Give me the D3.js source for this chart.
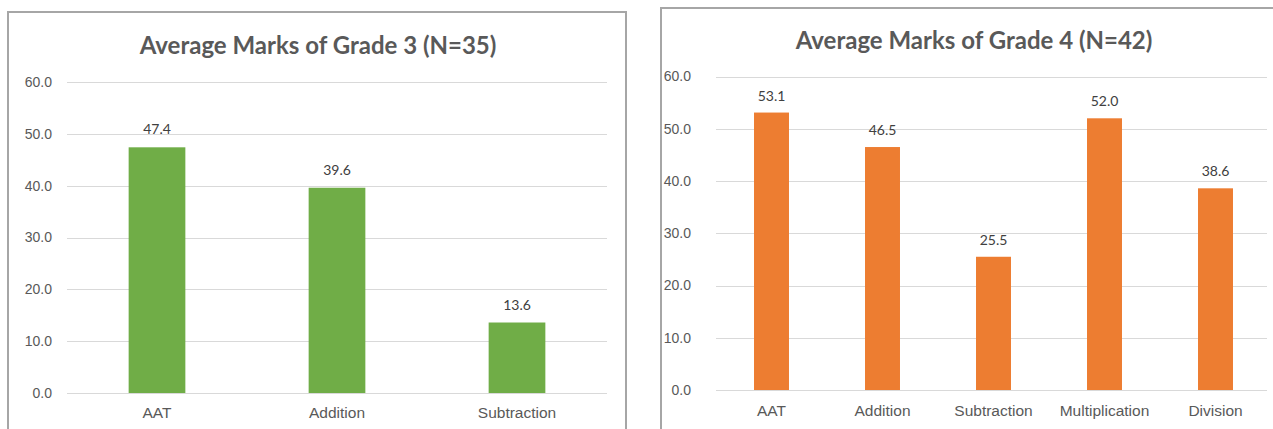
<!DOCTYPE html>
<html>
<head>
<meta charset="utf-8">
<script src="https://cdn.jsdelivr.net/npm/d3@7"></script>
<style>
  html, body { margin: 0; padding: 0; background: #fff; }
  svg { display: block; font-family: Lato, "Open Sans", sans-serif; }
</style>
</head>
<body>
<svg id="chart" width="1273" height="429"></svg>
<script>
// data
const grade3Categories = ["AAT", "Addition", "Subtraction"];
const grade3Values = [47.4, 39.6, 13.6];
const grade4Categories = ["AAT", "Addition", "Subtraction", "Multiplication", "Division"];
const grade4Values = [53.1, 46.5, 25.5, 52.0, 38.6];
const yTicks = [0, 10, 20, 30, 40, 50, 60];

const svg = d3.select("#chart");
const textColor = "#595959";

// one Excel-style chart panel
function drawPanel(cfg) {
    const g = svg.append("g");

    // chart frame
    g.append("rect")
        .attr("x", cfg.frame.x)
        .attr("y", cfg.frame.y)
        .attr("width", cfg.frame.w)
        .attr("height", cfg.frame.h)
        .attr("fill", "#fff")
        .attr("stroke", "#a6a6a6")
        .attr("stroke-width", 2);

    const x = d3.scaleBand()
        .domain(cfg.categories)
        .range([cfg.plot.left, cfg.plot.right])
        .paddingInner(0.685)
        .paddingOuter(0.3425);

    const y = d3.scaleLinear()
        .domain([0, 60])
        .range([cfg.plot.bottom, cfg.plot.top]);

    // gridlines
    g.append("g")
        .selectAll("line")
        .data(yTicks)
        .join("line")
        .attr("x1", cfg.plot.left)
        .attr("x2", cfg.gridRight)
        .attr("y1", d => Math.round(y(d)) + 0.5)
        .attr("y2", d => Math.round(y(d)) + 0.5)
        .attr("stroke", "#d9d9d9")
        .attr("stroke-width", 1);

    // y axis labels
    const yAxis = d3.axisLeft(y)
        .tickValues(yTicks)
        .tickFormat(d3.format(".1f"))
        .tickSize(0)
        .tickPadding(cfg.plot.left - cfg.tickX);
    g.append("g")
        .attr("transform", `translate(${cfg.plot.left},0)`)
        .call(yAxis)
        .call(a => a.select(".domain").remove())
        .selectAll("text")
        .attr("fill", textColor)
        .style("font-size", "14px");

    // x axis labels
    const xAxis = d3.axisBottom(x).tickSize(0).tickPadding(cfg.catPad);
    g.append("g")
        .attr("transform", `translate(0,${cfg.plot.bottom})`)
        .call(xAxis)
        .call(a => a.select(".domain").remove())
        .selectAll("text")
        .attr("fill", textColor)
        .style("font-size", "15.5px");

    const rows = cfg.categories.map((c, i) => ({ label: c, value: cfg.values[i] }));

    // bars
    g.append("g")
        .selectAll("rect")
        .data(rows)
        .join("rect")
        .attr("x", d => x(d.label))
        .attr("width", x.bandwidth())
        .attr("y", d => y(d.value))
        .attr("height", d => y(0) - y(d.value))
        .attr("fill", cfg.color);

    // value labels
    g.append("g")
        .selectAll("text")
        .data(rows)
        .join("text")
        .attr("x", d => x(d.label) + x.bandwidth() / 2)
        .attr("y", d => y(d.value) - cfg.labelGap)
        .attr("text-anchor", "middle")
        .attr("fill", "#404040")
        .style("font-size", "14px")
        .text(d => d3.format(".1f")(d.value));

    // title
    g.append("text")
        .attr("x", cfg.titleX)
        .attr("y", cfg.titleY)
        .attr("text-anchor", "middle")
        .attr("fill", textColor)
        .style("font-size", "24px")
        .style("font-weight", "bold")
        .text(cfg.title);
}

drawPanel({
    title: "Average Marks of Grade 3 (N=35)",
    categories: grade3Categories,
    values: grade3Values,
    color: "#70ad47",
    frame: { x: 8, y: 12, w: 618, h: 440 },
    plot: { left: 67, right: 607, top: 82, bottom: 393 },
    gridRight: 607,
    tickX: 52,
    catPad: 14,
    labelGap: 13,
    titleX: 318,
    titleY: 54
});

drawPanel({
    title: "Average Marks of Grade 4 (N=42)",
    categories: grade4Categories,
    values: grade4Values,
    color: "#ed7d31",
    frame: { x: 661, y: 8, w: 640, h: 440 },
    plot: { left: 716, right: 1271, top: 76.5, bottom: 390 },
    gridRight: 1267,
    tickX: 691,
    catPad: 15,
    labelGap: 12,
    titleX: 974,
    titleY: 49
});
</script>
</body>
</html>
